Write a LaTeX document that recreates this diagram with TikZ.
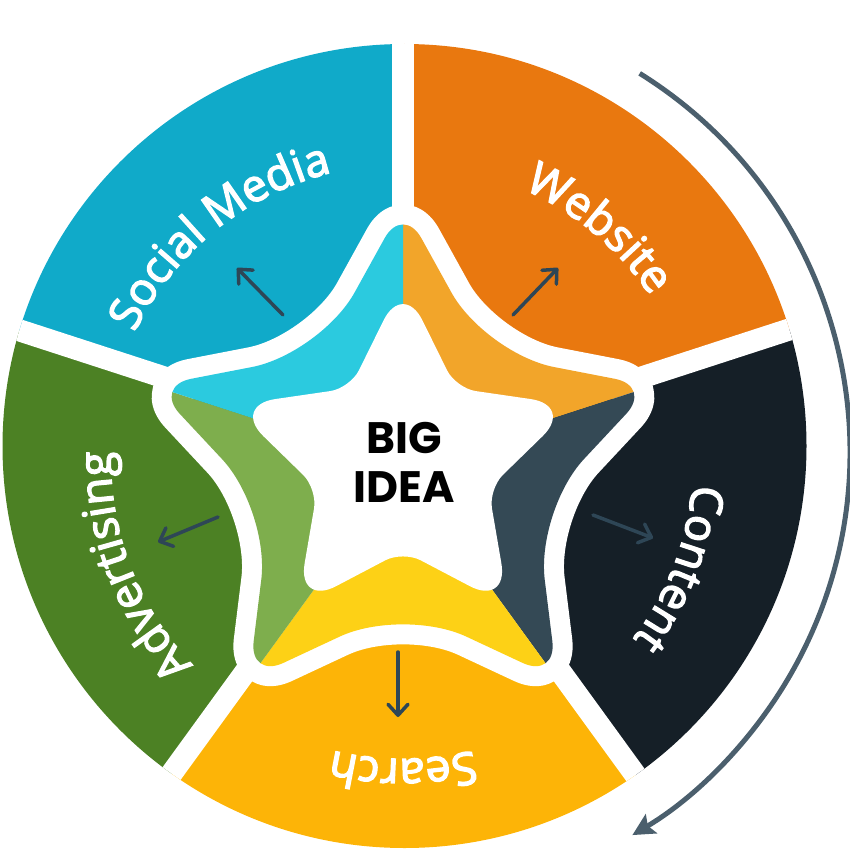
\documentclass[tikz,border=0pt]{standalone}
\usepackage{fontspec}
\newfontfamily\labelfont[FakeBold=3]{Open Sans}
\newfontfamily\ideafont{Poppins}
\usetikzlibrary{arrows.meta,decorations.text}

\definecolor{socialblue}{RGB}{16,170,201}
\definecolor{weborange}{RGB}{233,120,15}
\definecolor{contentnavy}{RGB}{21,31,39}
\definecolor{searchamber}{RGB}{253,180,7}
\definecolor{advgreen}{RGB}{76,129,36}
\definecolor{socialcyan}{RGB}{43,202,223}
\definecolor{webpeach}{RGB}{242,165,42}
\definecolor{contentslate}{RGB}{52,73,85}
\definecolor{searchyellow}{RGB}{253,209,22}
\definecolor{advlime}{RGB}{126,174,77}
\definecolor{arrowgray}{RGB}{46,70,86}
\definecolor{cyclegray}{RGB}{75,95,109}

% star outline: tip radius, inner radius, tip corner, inner corner
\newcommand{\starline}[4]{[rounded corners=#4] (54:#2)
  \foreach \a in {18,-54,-126,162}{[rounded corners=#3] -- (\a:#1) [rounded corners=#4] -- (\a-36:#2)}
  [rounded corners=#3] -- (90:#1) [rounded corners=#4] -- cycle}

\begin{document}
\begin{tikzpicture}[x=1pt, y=1pt,
  sectarrow/.style={draw=arrowgray, line width=3.5pt, line cap=round,
    -{Straight Barb[length=11pt, width=20pt, round]}},
  cyclearrow/.style={draw=cyclegray, line width=5pt,
    -{Stealth[length=22pt, width=22pt, inset=4pt]}},
  seglabel/.style={decorate, decoration={text along path, text align=center,
    text color=white, text={|\labelfont\fontsize{45}{50}\selectfont|#1}}}]
  \useasboundingbox (0,0) rectangle (849,-851);
  \coordinate (hub) at (403,-455);
  \coordinate (rim) at (404.5,-446);
  \coordinate (core) at (403,-467);
  \coordinate (txt) at (403,-462);
  \coordinate (loop) at (404,-452);

  % wedges and white cuts
  \begin{scope}
    \clip (rim) circle (402);
    \begin{scope}[shift={(hub)}]
      \foreach \a/\c in {90/weborange, 18/contentnavy, -54/searchamber, -126/advgreen, 162/socialblue}
        \fill[\c] (0,0) -- (\a:700) -- (\a-36:700) -- (\a-72:700) -- cycle;
      \foreach \a in {90,18,-54,-126,162}
        \draw[white, line width=22pt] (0,0) -- (\a:700);
    \end{scope}
  \end{scope}

  % the star
  \begin{scope}[shift={(core)}]
    \draw[white, line width=40pt, line join=round] \starline{262}{140}{38}{70};
    \begin{scope}
      \clip \starline{262}{140}{38}{70};
      \foreach \a/\c in {90/webpeach, 18/contentslate, -54/searchyellow, -126/advlime, 162/socialcyan}
        \fill[\c] (0,0) -- (\a:300) -- (\a-36:300) -- (\a-72:300) -- cycle;
    \end{scope}
  \end{scope}
  \fill[white, shift={(403,-461)}] \starline{180}{90}{44}{20};
  \node[font=\ideafont\bfseries\fontsize{44}{49}\selectfont, align=center, inner sep=0pt] (idea) at (404,-462) {BIG\\IDEA};

  % labels
  \path[seglabel={Social Media}] (txt) ++(174:298) arc[start angle=174, end angle=84, radius=298];
  \path[seglabel={Website}] (txt) ++(95:298) arc[start angle=95, end angle=5, radius=298];
  \path[seglabel={Content}] (txt) ++(24:290) arc[start angle=24, end angle=-66, radius=290];
  \path[seglabel={Search}] (txt) ++(-45:297) arc[start angle=-45, end angle=-135, radius=297];
  \path[seglabel={Advertising}] (txt) ++(246:292) arc[start angle=246, end angle=156, radius=292];

  % small arrows
  \coordinate (social-in) at (283,-315);  \coordinate (social-out) at (237,-268);
  \coordinate (web-in) at (513,-315);     \coordinate (web-out) at (558,-268);
  \coordinate (content-in) at (593,-515); \coordinate (content-out) at (653,-538);
  \coordinate (search-in) at (398,-652);  \coordinate (search-out) at (398,-717);
  \coordinate (adv-in) at (218,-517);     \coordinate (adv-out) at (158,-542);
  \foreach \s in {social,web,content,search,adv}
    \draw[sectarrow] (\s-in) -- (\s-out);

  % cycle arrow
  \draw[cyclearrow] (loop) ++(58.1:446) arc[start angle=58.1, end angle=-59.2, radius=446];
\end{tikzpicture}
\end{document}
